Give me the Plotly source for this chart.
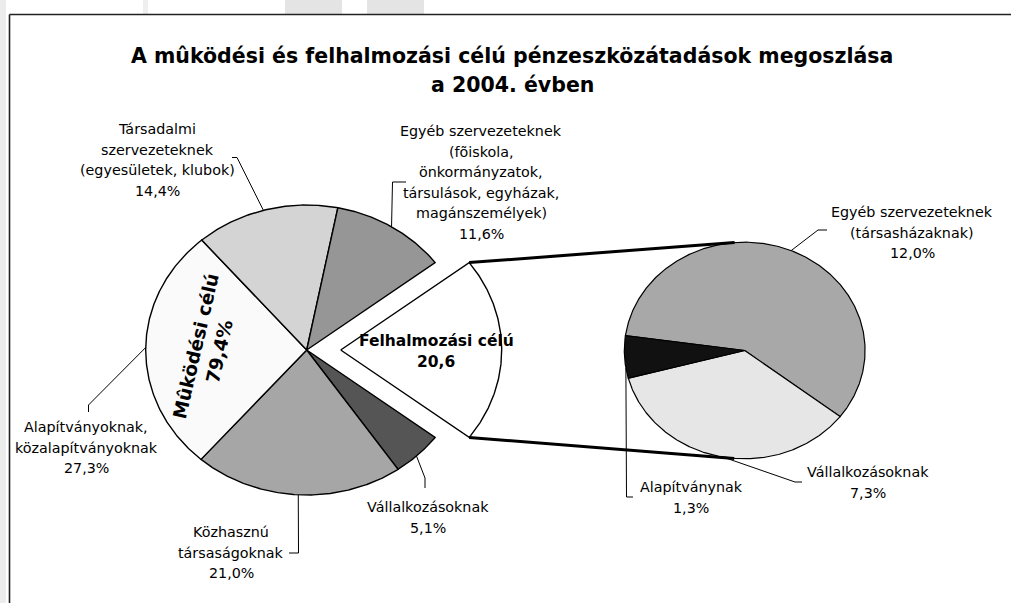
import numpy as np
import plotly.graph_objects as go

# ---------------- data ----------------
title_lines = ["A mûködési és felhalmozási célú pénzeszközátadások megoszlása",
               "a 2004. évben"]

main_names = ["Felhalmozási célú", "Vállalkozásoknak", "Közhasznú társaságoknak",
              "Alapítványoknak, közalapítványoknak",
              "Társadalmi szervezeteknek (egyesületek, klubok)",
              "Egyéb szervezeteknek (fõiskola, önkormányzatok, társulások, egyházak, magánszemélyek)"]
main_values = [20.6, 5.1, 21.0, 27.3, 14.4, 11.6]

sub_names = ["Egyéb szervezeteknek (társasházaknak)", "Vállalkozásoknak", "Alapítványnak"]
sub_values = [12.0, 7.3, 1.3]

operating_label = ["Mûködési célú", "79,4%"]
capital_label = ["Felhalmozási célú", "20,6"]

main_label_lines = [
    None,
    ["Vállalkozásoknak", "5,1%"],
    ["Közhasznú", "társaságoknak", "21,0%"],
    ["Alapítványoknak,", "közalapítványoknak", "27,3%"],
    ["Társadalmi", "szervezeteknek", "(egyesületek, klubok)", "14,4%"],
    ["Egyéb szervezeteknek", "(fõiskola,", "önkormányzatok,", "társulások, egyházak,",
     "magánszemélyek)", "11,6%"],
]
sub_label_lines = [
    ["Egyéb szervezeteknek", "(társasházaknak)", "12,0%"],
    ["Vállalkozásoknak", "7,3%"],
    ["Alapítványnak", "1,3%"],
]

# ---------------- styles / layout ----------------
W, H = 1011, 603
main_colors = ["#FFFFFF", "#555555", "#A6A6A6", "#FAFAFA", "#D4D4D4", "#969696"]
sub_colors = ["#A8A8A8", "#E6E6E6", "#111111"]

MAIN = dict(cx=306.7, cy=350.0, rx=161.0, ry=145.0)
SUB = dict(cx=744.7, cy=350.5, rx=120.4, ry=108.3)
EXPLODE = 34.0
SUB_START = 277.9
FONT = "DejaVu Sans"
LBL_SIZE = 14.3
LINE_H = 20.6

# label block: (center x, first line y), leader: anchor angle + elbow points
main_label_pos = [None, (428, 507), (231, 532), (86, 427), (157, 129), (481, 131)]
main_leaders = [None,
                (137.0, [(425, 478), (425, 488)]),
                (183.0, [(298.5, 553), (289, 553)]),
                (271.0, [(88.5, 405), (88.5, 412)]),
                (344.4, [(237, 157.5), (232, 157.5)]),
                (31.8, [(392.5, 182), (406, 182)])]
sub_label_pos = [(912, 212), (868, 472), (691, 487)]
sub_leaders = [(22.7, [(818, 230), (827, 230)]),
               (190.4, [(795, 482), (802, 482)]),
               (260.7, [(626.5, 497), (633, 497)])]


def pt(c, a, dx=0.0):
    r = np.radians(a)
    return c["cx"] + dx + c["rx"] * np.sin(r), c["cy"] - c["ry"] * np.cos(r)


def slice_xy(c, a0, a1, dx=0.0):
    n = max(4, int(abs(a1 - a0) * 2))
    ang = np.linspace(a0, a1, n)
    xs, ys = pt(c, ang, dx)
    x = np.concatenate([[c["cx"] + dx], xs, [c["cx"] + dx]])
    y = np.concatenate([[c["cy"]], ys, [c["cy"]]])
    return x, y


fig = go.Figure()

# main pie
tot = sum(main_values)
span0 = main_values[0] / tot * 360
start = 90 - span0 / 2
a = start
main_angles = []
for i, v in enumerate(main_values):
    span = v / tot * 360
    dx = EXPLODE if i == 0 else 0.0
    x, y = slice_xy(MAIN, a, a + span, dx)
    fig.add_trace(go.Scatter(x=x, y=y, mode="lines", fill="toself",
                             fillcolor=main_colors[i], line=dict(color="black", width=1.4),
                             hoverinfo="skip", name=main_names[i]))
    main_angles.append((a, a + span))
    a += span

# sub pie
stot = sum(sub_values)
a = SUB_START
for i, v in enumerate(sub_values):
    span = v / stot * 360
    x, y = slice_xy(SUB, a, a + span)
    fig.add_trace(go.Scatter(x=x, y=y, mode="lines", fill="toself",
                             fillcolor=sub_colors[i], line=dict(color="black", width=1.2),
                             hoverinfo="skip", name=sub_names[i]))
    a += span

# connector lines: exploded slice corners -> tangents of the second pie
corners = [pt(MAIN, main_angles[0][0], EXPLODE), pt(MAIN, main_angles[0][1], EXPLODE)]
tt = np.linspace(0, 360, 7201)
ex, ey = pt(SUB, tt)
r = np.radians(tt)
dex, dey = SUB["rx"] * np.cos(r), SUB["ry"] * np.sin(r)
for k, (px, py) in enumerate(corners):
    cross = (ex - px) * dey - (ey - py) * dex
    idx = np.where(np.sign(cross[:-1]) != np.sign(cross[1:]))[0]
    cand = [(ex[j], ey[j]) for j in idx]
    tx, ty = (min(cand, key=lambda p: p[1]) if k == 0 else max(cand, key=lambda p: p[1]))
    fig.add_trace(go.Scatter(x=[px, tx], y=[py, ty], mode="lines",
                             line=dict(color="black", width=3), hoverinfo="skip"))


def leader(c, ang, pts):
    sx, sy = pt(c, ang)
    xs = [sx] + [p[0] for p in pts]
    ys = [sy] + [p[1] for p in pts]
    fig.add_trace(go.Scatter(x=xs, y=ys, mode="lines",
                             line=dict(color="black", width=1), hoverinfo="skip"))


for i in range(1, len(main_values)):
    leader(MAIN, *main_leaders[i])
for i in range(len(sub_values)):
    leader(SUB, *sub_leaders[i])

ann = []


def text_block(lines, x, y0, size=LBL_SIZE, bold=False, lh=LINE_H):
    for j, t in enumerate(lines):
        ann.append(dict(x=x, y=y0 + j * lh, text=t, showarrow=False, xref="x", yref="y",
                        xanchor="center", yanchor="middle",
                        font=dict(family=FONT, size=size, color="black",
                                  weight="bold" if bold else "normal")))


for i in range(1, len(main_values)):
    text_block(main_label_lines[i], *main_label_pos[i])
for i in range(len(sub_values)):
    text_block(sub_label_lines[i], *sub_label_pos[i])

text_block(capital_label, 436, 341, size=15.5, bold=True, lh=21)
text_block(title_lines, 512, 56, size=20.5, bold=True, lh=29)

ann.append(dict(x=207, y=349, text="<br>".join(operating_label), showarrow=False,
                xref="x", yref="y", textangle=-77,
                font=dict(family=FONT, size=18.5, color="black", weight="bold")))

shapes = [
    dict(type="rect", x0=0, x1=6, y0=0, y1=H, xref="x", yref="y",
         fillcolor="#ECECEC", line=dict(width=0), layer="below"),
    dict(type="rect", x0=143, x1=148, y0=0, y1=14, xref="x", yref="y",
         fillcolor="#EFEFEF", line=dict(width=0), layer="below"),
    dict(type="rect", x0=285, x1=342, y0=0, y1=14, xref="x", yref="y",
         fillcolor="#E4E4E4", line=dict(width=0), layer="below"),
    dict(type="rect", x0=367, x1=424, y0=0, y1=14, xref="x", yref="y",
         fillcolor="#E4E4E4", line=dict(width=0), layer="below"),
    dict(type="line", x0=9.5, x1=W + 5, y0=14.5, y1=14.5, xref="x", yref="y",
         line=dict(color="#222222", width=1.6)),
    dict(type="line", x0=9.5, x1=9.5, y0=14.5, y1=H + 5, xref="x", yref="y",
         line=dict(color="#222222", width=1.6)),
]

fig.update_layout(
    width=W, height=H, margin=dict(l=0, r=0, t=0, b=0),
    paper_bgcolor="white", plot_bgcolor="white", showlegend=False,
    xaxis=dict(range=[0, W], visible=False, fixedrange=True),
    yaxis=dict(range=[H, 0], visible=False, fixedrange=True),
    annotations=ann, shapes=shapes,
)

fig.write_html("out.html",
               post_script="document.body.style.margin='0';document.body.style.overflow='hidden';",
               config={"displayModeBar": False})
